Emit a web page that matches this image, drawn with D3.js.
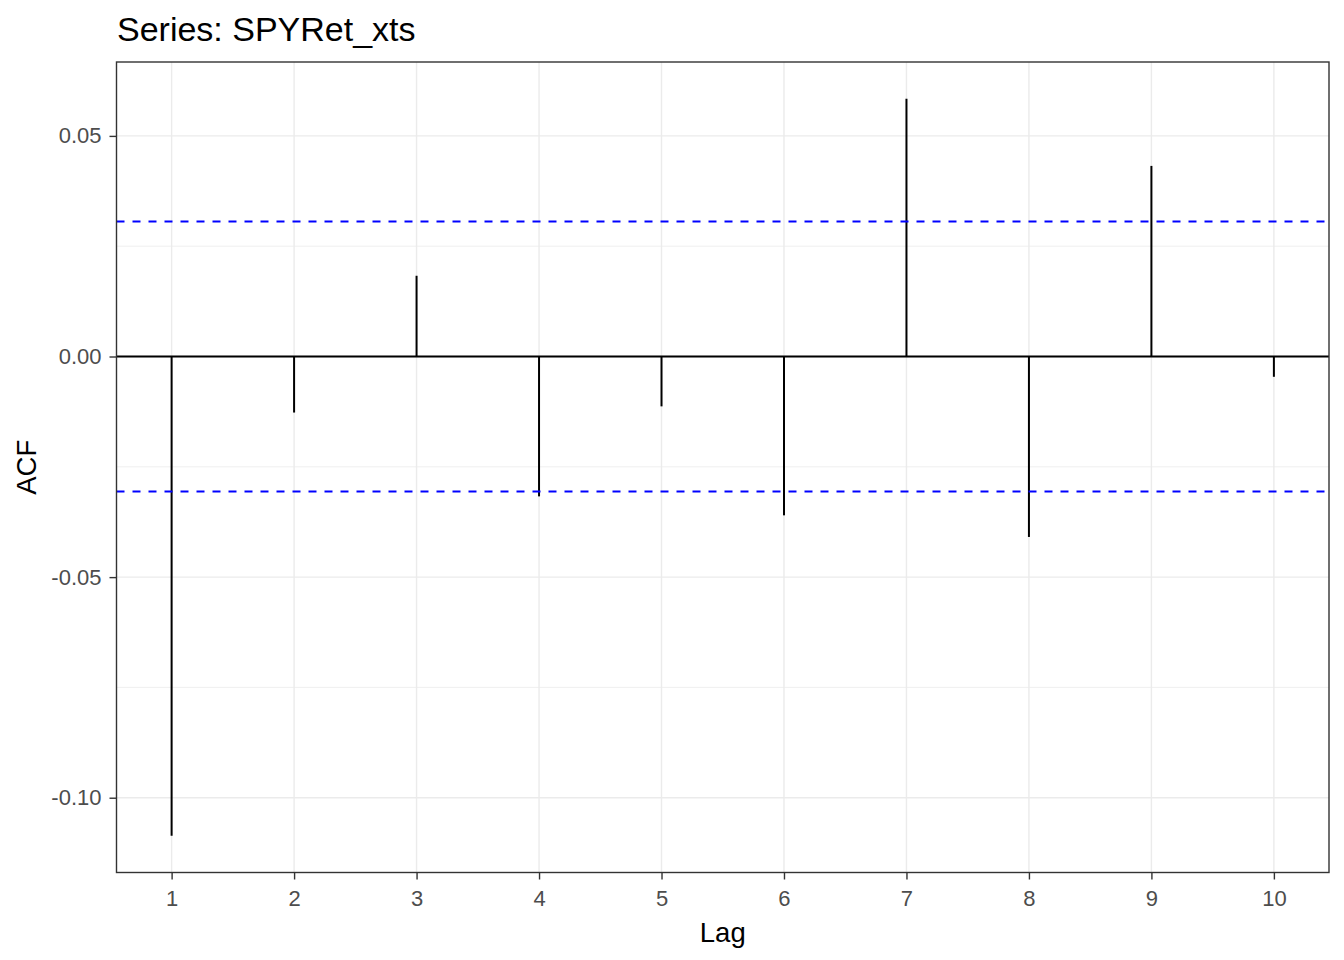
<!DOCTYPE html>
<html>
<head>
<meta charset="utf-8">
<script src="https://cdn.jsdelivr.net/npm/d3@7"></script>
<style>
  html, body { margin: 0; padding: 0; background: #fff; }
  svg { display: block; font-family: "Liberation Sans", Arial, sans-serif; }
</style>
</head>
<body>
<svg id="chart" width="1344" height="960"></svg>
<script>
// ---- data ----
const title = "Series: SPYRet_xts";
const lags = [1, 2, 3, 4, 5, 6, 7, 8, 9, 10];
const acfValues = [-0.1086, -0.0127, 0.0183, -0.0317, -0.0113, -0.0360, 0.0584, -0.0409, 0.0432, -0.0046];
const ciBound = 0.0306;
const yTicks = [0.05, 0.00, -0.05, -0.10];
const yTickLabels = ["0.05", "0.00", "-0.05", "-0.10"];
const yMinorTicks = [0.025, -0.025, -0.075];
const xLabel = "Lag";
const yLabel = "ACF";

// ---- layout ----
const panel = { left: 116.5, right: 1329, top: 62, bottom: 872.5 };
const svg = d3.select("#chart");

const xMin = d3.min(lags), xMax = d3.max(lags);
const xPad = (xMax - xMin) * 0.05;
const x = d3.scaleLinear().domain([xMin - xPad, xMax + xPad]).range([panel.left, panel.right]);

const yLo = Math.min(0, d3.min(acfValues)), yHi = Math.max(0, d3.max(acfValues));
const yPad = (yHi - yLo) * 0.05;
const y = d3.scaleLinear().domain([yLo - yPad, yHi + yPad]).range([panel.bottom, panel.top]);

// background
svg.append("rect").attr("x", panel.left).attr("y", panel.top)
  .attr("width", panel.right - panel.left).attr("height", panel.bottom - panel.top)
  .attr("fill", "#fff");

// minor grid
svg.append("g").selectAll("line").data(yMinorTicks).join("line")
  .attr("x1", panel.left).attr("x2", panel.right)
  .attr("y1", d => y(d)).attr("y2", d => y(d))
  .attr("stroke", "#ebebeb").attr("stroke-width", 0.8);

// major grid
svg.append("g").selectAll("line").data(yTicks).join("line")
  .attr("x1", panel.left).attr("x2", panel.right)
  .attr("y1", d => y(d)).attr("y2", d => y(d))
  .attr("stroke", "#ebebeb").attr("stroke-width", 1.4);
svg.append("g").selectAll("line").data(lags).join("line")
  .attr("x1", d => x(d)).attr("x2", d => x(d))
  .attr("y1", panel.top).attr("y2", panel.bottom)
  .attr("stroke", "#ebebeb").attr("stroke-width", 1.4);

// zero line
svg.append("line")
  .attr("x1", panel.left).attr("x2", panel.right)
  .attr("y1", y(0)).attr("y2", y(0))
  .attr("stroke", "#000").attr("stroke-width", 2);

// segments
svg.append("g").selectAll("line").data(lags).join("line")
  .attr("x1", d => x(d)).attr("x2", d => x(d))
  .attr("y1", y(0)).attr("y2", (d, i) => y(acfValues[i]))
  .attr("stroke", "#000").attr("stroke-width", 2);

// confidence bounds
svg.append("g").selectAll("line").data([ciBound, -ciBound]).join("line")
  .attr("x1", panel.left).attr("x2", panel.right)
  .attr("y1", d => y(d)).attr("y2", d => y(d))
  .attr("stroke", "#0000ff").attr("stroke-width", 2)
  .attr("stroke-dasharray", "8,8");

// panel border
svg.append("rect").attr("x", panel.left).attr("y", panel.top)
  .attr("width", panel.right - panel.left).attr("height", panel.bottom - panel.top)
  .attr("fill", "none").attr("stroke", "#333333").attr("stroke-width", 1.4);

// axes
const yAxis = d3.axisLeft(y).tickValues(yTicks)
  .tickFormat((d, i) => yTickLabels[i]).tickSize(7).tickPadding(8);
const gy = svg.append("g").attr("transform", `translate(${panel.left},0)`).call(yAxis);
const xAxis = d3.axisBottom(x).tickValues(lags).tickFormat(d3.format("d")).tickSize(7).tickPadding(4);
const gx = svg.append("g").attr("transform", `translate(0,${panel.bottom})`).call(xAxis);
[gx, gy].forEach(g => {
  g.select(".domain").remove();
  g.selectAll(".tick line").attr("stroke", "#333333").attr("stroke-width", 1.4);
  g.selectAll(".tick text").attr("fill", "#4d4d4d")
    .style("font-size", "22px").style("font-family", "'Liberation Sans', Arial, sans-serif");
});
gx.selectAll(".tick text").attr("dy", null).attr("y", 33).attr("dominant-baseline", "auto");

// titles
svg.append("text").attr("x", 117).attr("y", 41)
  .attr("font-size", 34).attr("fill", "#000").text(title);
svg.append("text").attr("x", (panel.left + panel.right) / 2).attr("y", 942)
  .attr("text-anchor", "middle").attr("font-size", 27.5).attr("fill", "#000").text(xLabel);
svg.append("text").attr("transform", `translate(36,${(panel.top + panel.bottom) / 2}) rotate(-90)`)
  .attr("text-anchor", "middle").attr("font-size", 27.5).attr("fill", "#000").text(yLabel);
</script>
</body>
</html>
